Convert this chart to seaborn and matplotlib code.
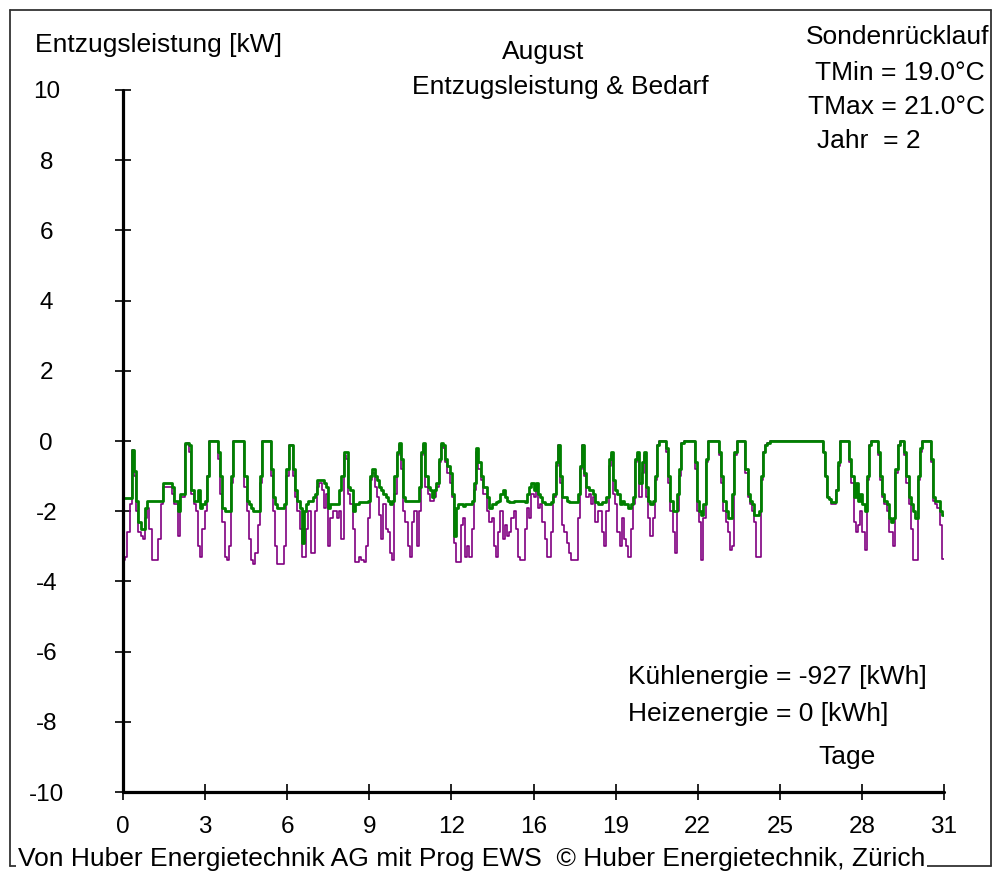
import numpy as np
import pandas as pd
import matplotlib
matplotlib.use("Agg")
import matplotlib.pyplot as plt
from matplotlib.lines import Line2D
import seaborn as sns

# ---------------- data (2-hour steps, 12 values per day) ----------------
SLOTS_PER_DAY = 12
entzug = [  # green: Entzugsleistung [kW]
    -1.63, -1.63, -1.63, -1.63, -0.26, -0.85, -1.7, -2.3, -2.5, -2.5, -1.9, -1.7,
    -1.7, -1.7, -1.7, -1.7, -1.7, -1.7, -1.2, -1.2, -1.2, -1.2, -1.3, -1.7,
    -1.7, -2.0, -1.5, -1.5, -0.07, -0.07, -0.1, -1.4, -1.7, -1.7, -1.4, -1.9,
    -1.8, -1.7, -1.0, 0, 0, 0, 0, -0.3, -1.0, -1.9, -2.0, -2.0,
    -2.0, -1.0, 0, 0, 0, 0, 0, -1.0, -1.7, -1.8, -1.9, -2.0,
    -2.0, -2.0, -1.0, 0, 0, 0, 0, -0.8, -1.6, -1.8, -1.9, -1.9,
    -1.9, -1.8, -0.8, -0.1, -0.1, -0.8, -1.4, -1.7, -1.9, -2.9, -2.0, -1.8,
    -1.7, -1.7, -1.6, -1.5, -1.1, -1.1, -1.1, -1.2, -1.3, -1.9, -1.8, -1.8,
    -1.8, -1.8, -1.4, -1.0, -0.3, -0.3, -1.3, -1.4, -2.0, -1.8, -1.8, -1.75,
    -1.75, -1.75, -1.75, -1.7, -1.0, -0.8, -1.0, -1.1, -1.3, -1.4, -1.5, -1.6,
    -1.7, -1.8, -1.7, -1.0, -0.3, -0.05, -0.5, -1.6, -1.7, -1.7, -1.7, -1.7,
    -1.7, -1.7, -1.3, -0.3, -0.07, -1.0, -1.3, -1.4, -1.6, -1.4, -1.2, -0.5,
    -0.05, -0.1, -0.5, -0.7, -0.9, -1.5, -2.7, -1.9, -1.8, -1.8, -1.85, -1.8,
    -1.8, -1.8, -1.7, -1.2, -0.2, -0.6, -1.0, -1.3, -1.3, -1.6, -1.9, -1.8,
    -1.8, -1.75, -1.7, -1.5, -1.4, -1.6, -1.7, -1.75, -1.75, -1.7, -1.7, -1.7,
    -1.7, -1.7, -1.75, -1.5, -1.3, -1.2, -1.4, -1.2, -1.5, -1.6, -1.75, -1.8,
    -1.8, -1.8, -1.75, -1.5, -0.6, -0.1, -1.0, -1.6, -1.6, -1.7, -1.75, -1.75,
    -1.75, -1.75, -1.5, -0.7, -0.1, -0.9, -1.3, -1.4, -1.4, -1.5, -1.75, -1.8,
    -1.8, -1.75, -1.75, -1.6, -0.5, -0.3, -1.1, -1.4, -1.5, -1.8, -1.7, -1.8,
    -1.8, -1.9, -1.8, -1.6, -0.5, -0.3, -1.2, -0.6, -0.3, -1.3, -1.7, -1.8,
    -1.7, -1.0, -0.1, 0, 0, 0, -0.2, -1.0, -1.7, -2.0, -2.0, -1.5,
    -0.8, -0.05, 0, 0, 0, 0, 0, -0.6, -1.7, -2.0, -2.1, -1.8,
    -0.5, 0, 0, 0, 0, 0, -0.3, -1.0, -1.7, -2.0, -2.2, -2.2,
    -1.5, -0.3, 0, 0, 0, 0, -0.8, -1.5, -1.7, -1.8, -2.1, -2.1,
    -2.0, -1.0, -0.3, -0.1, -0.05, 0, 0, 0, 0, 0, 0, 0,
    0, 0, 0, 0, 0, 0, 0, 0, 0, 0, 0, 0,
    0, 0, 0, 0, 0, -0.3, -1.0, -1.6, -1.65, -1.75, -1.75, -1.4,
    -0.6, 0, 0, 0, 0, -0.5, -1.0, -1.6, -1.2, -1.7, -1.5, -1.8,
    -2.0, -1.0, -0.1, 0, 0, 0, -0.3, -1.0, -1.5, -1.7, -1.8, -2.2,
    -2.3, -2.2, -0.8, -0.1, 0, 0, -0.3, -1.0, -1.6, -1.8, -2.0, -2.2,
    -1.0, -0.2, 0, 0, 0, 0, -0.5, -1.6, -1.7, -1.7, -2.0, -2.1,
]
bedarf = [  # purple: Bedarf [kW]
    -3.4, -3.3, -2.6, -1.8, -0.26, -1.0, -2.0, -2.6, -2.7, -2.8, -2.2, -1.9,
    -2.5, -3.4, -3.4, -3.4, -2.8, -1.8, -1.3, -1.3, -1.3, -1.3, -1.5, -1.8,
    -1.8, -2.7, -1.6, -1.6, -0.1, -0.07, -0.3, -1.5, -1.8, -2.0, -3.0, -3.3,
    -2.5, -2.0, -1.0, 0, 0, 0, 0, -0.5, -1.5, -2.3, -3.3, -3.4,
    -3.0, -1.2, 0, 0, 0, 0, 0, -1.3, -2.0, -2.8, -3.4, -3.5,
    -3.2, -2.4, -1.2, 0, 0, 0, 0, -1.0, -2.0, -3.0, -3.5, -3.5,
    -3.5, -3.0, -1.0, -0.1, -0.1, -1.0, -1.6, -2.0, -2.5, -3.3, -3.3, -2.5,
    -2.0, -3.2, -3.2, -2.0, -1.3, -1.2, -1.4, -1.9, -1.5, -3.0, -2.2, -2.0,
    -2.0, -2.2, -2.0, -2.8, -0.4, -0.5, -1.5, -1.8, -2.5, -3.45, -3.45, -3.3,
    -3.4, -3.45, -3.0, -2.2, -1.1, -0.9, -1.3, -1.6, -2.1, -2.8, -1.8, -2.5,
    -2.6, -3.2, -3.4, -1.5, -0.4, -0.1, -0.8, -2.0, -2.3, -3.0, -3.3, -2.3,
    -2.0, -3.0, -2.0, -0.4, -0.1, -1.3, -1.5, -1.7, -1.7, -1.6, -1.3, -0.6,
    -0.1, -0.2, -0.6, -0.9, -1.2, -1.6, -2.9, -3.45, -3.45, -2.4, -2.2, -3.3,
    -3.0, -3.3, -2.5, -1.4, -0.3, -0.8, -1.1, -1.5, -1.5, -2.0, -2.3, -2.2,
    -3.0, -3.3, -2.6, -2.0, -2.8, -2.4, -2.7, -2.6, -2.2, -2.0, -2.5, -3.3,
    -3.4, -3.4, -2.5, -1.9, -2.2, -1.5, -1.6, -1.4, -1.9, -1.8, -2.3, -2.8,
    -3.3, -3.3, -2.6, -1.6, -0.7, -0.1, -1.2, -2.4, -2.6, -2.9, -3.2, -3.4,
    -3.4, -3.4, -2.2, -0.8, -0.1, -1.0, -1.6, -1.5, -1.8, -1.6, -2.3, -2.0,
    -2.0, -2.6, -3.0, -2.0, -0.7, -0.4, -1.5, -1.8, -2.6, -3.0, -2.2, -2.8,
    -3.0, -3.3, -2.5, -1.8, -0.6, -0.4, -1.6, -0.9, -0.4, -1.6, -2.2, -2.7,
    -2.2, -1.1, -0.1, 0, 0, 0, -0.3, -1.2, -2.0, -2.6, -3.2, -2.0,
    -1.0, -0.05, 0, 0, 0, 0, 0, -0.8, -2.0, -2.3, -3.4, -2.2,
    -0.6, 0, 0, 0, 0, 0, -0.4, -1.2, -2.0, -2.3, -2.6, -3.1,
    -3.0, -0.4, 0, 0, 0, 0, -0.9, -1.6, -1.8, -2.0, -2.3, -3.3,
    -3.3, -1.1, -0.3, -0.1, -0.05, 0, 0, 0, 0, 0, 0, 0,
    0, 0, 0, 0, 0, 0, 0, 0, 0, 0, 0, 0,
    0, 0, 0, 0, 0, -0.3, -1.0, -1.6, -1.65, -1.8, -1.8, -1.4,
    -0.7, 0, 0, 0, 0, -0.6, -1.2, -2.3, -2.6, -2.4, -2.0, -2.6,
    -3.1, -1.1, -0.1, 0, 0, 0, -0.4, -1.1, -1.6, -1.8, -2.0, -2.6,
    -2.6, -3.0, -0.9, -0.1, 0, 0, -0.4, -1.2, -1.8, -2.5, -3.4, -3.4,
    -1.1, -0.3, 0, 0, 0, 0, -0.6, -1.7, -1.8, -1.9, -2.4, -3.35,
]
x_tick_labels = ["0", "3", "6", "9", "12", "16", "19", "22", "25", "28", "31"]
y_ticks = [-10, -8, -6, -4, -2, 0, 2, 4, 6, 8, 10]

# ---------------- figure ----------------
W, H = 994, 871
sns.set_theme(style="white")
plt.rcParams["font.family"] = ["Liberation Sans", "DejaVu Sans"]
FS_TICK = 17.5
FS = 19

fig = plt.figure(figsize=(W / 100, H / 100), dpi=100)
fig.patch.set_facecolor("white")

def px(x, y):
    return x / W, 1 - y / H

ax_l, ax_r, ax_t, ax_b = 123, 944, 90, 792
ax = fig.add_axes([ax_l / W, 1 - ax_b / H, (ax_r - ax_l) / W, (ax_b - ax_t) / H])
ax.set_facecolor("white")

def series_frame(vals, name):
    t = np.arange(len(vals)) / SLOTS_PER_DAY
    t = np.append(t, 31.0)
    v = list(vals) + [vals[-1]]
    return pd.DataFrame({"Tag": t, "kW": v, "Reihe": name})

df_b = series_frame(bedarf, "Bedarf")
df_e = series_frame(entzug, "Entzugsleistung")

sns.lineplot(data=df_b, x="Tag", y="kW", color="#800080", linewidth=1.2,
             drawstyle="steps-post", estimator=None, ax=ax, legend=False)
sns.lineplot(data=df_e, x="Tag", y="kW", color="#008000", linewidth=2.0,
             drawstyle="steps-post", estimator=None, ax=ax, legend=False)

ax.set_xlim(0, 31)
ax.set_ylim(-10, 10)
ax.set_xlabel("")
ax.set_ylabel("")
for s in ax.spines.values():
    s.set_visible(False)
ax.axvline(0, color="black", lw=2.3, clip_on=False, zorder=5)
ax.axhline(-10, color="black", lw=2.3, clip_on=False, zorder=5)

ax.set_xticks(np.linspace(0, 31, len(x_tick_labels)))
ax.set_xticklabels(x_tick_labels, fontsize=FS_TICK)
ax.set_yticks(y_ticks)
ax.set_yticklabels([str(v) for v in y_ticks], fontsize=FS_TICK, ha="center")
ax.tick_params(axis="both", direction="inout", length=11.5, width=1.2,
               color="black", labelcolor="black", bottom=True, left=True,
               top=False, right=False)
ax.tick_params(axis="y", pad=49.5)
ax.tick_params(axis="x", pad=11.5)
ax.grid(False)

# ---------------- texts ----------------
def ftext(x, y, s, ha="left", va="center", **kw):
    fig.text(*px(x, y), s, ha=ha, va=va, fontsize=FS, color="black", **kw)

ftext(35, 45, "Entzugsleistung [kW]")
ftext(543, 52, "August", ha="center")
ftext(560, 87, "Entzugsleistung & Bedarf", ha="center")
ftext(989, 37, "Sondenrücklauf", ha="right")
ftext(985, 73, "TMin = 19.0°C", ha="right")
ftext(985, 107, "TMax = 21.0°C", ha="right")
ftext(817, 141, "Jahr  = 2")
ftext(628, 677, "Kühlenergie = -927 [kWh]")
ftext(628, 714, "Heizenergie = 0 [kWh]")
ftext(818, 757, "Tage")

# ---------------- frame ----------------
fl, fr, ft, fb = 10, 991, 10, 866
frame_col = "#333333"
for xs, ys in [((fl, fr), (ft, ft)), ((fl, fl), (ft, fb)), ((fr, fr), (ft, fb)), ((fl, fr), (fb, fb))]:
    fig.add_artist(Line2D([x / W for x in xs], [1 - y / H for y in ys],
                          color=frame_col, lw=1.3, transform=fig.transFigure))

fig.text(*px(18, fb), "Von Huber Energietechnik AG mit Prog EWS  © Huber Energietechnik, Zürich",
         ha="left", va="baseline", fontsize=FS, color="black",
         bbox=dict(facecolor="white", edgecolor="none", pad=1.5))

fig.savefig("out.png", dpi=100, facecolor="white")
